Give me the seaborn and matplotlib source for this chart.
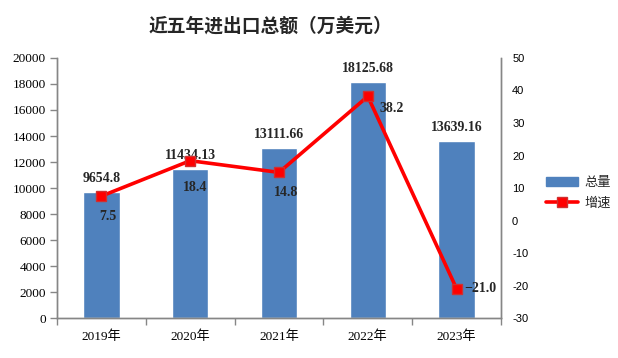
import seaborn as sns
import matplotlib.pyplot as plt
import pandas as pd
from matplotlib.patches import Patch
from matplotlib.lines import Line2D

years = ['2019年', '2020年', '2021年', '2022年', '2023年']
totals = [9654.8, 11434.13, 13111.66, 18125.68, 13639.16]
total_text = ['9654.8', '11434.13', '13111.66', '18125.68', '13639.16']
growth = [7.5, 18.4, 14.8, 38.2, -21.0]
growth_text = ['7.5', '18.4', '14.8', '38.2', '\u221221.0']

df = pd.DataFrame({'year': years, 'total': totals, 'growth': growth})

sns.set_theme(style='white')
plt.rcParams['font.family'] = ['Liberation Serif', 'Noto Sans CJK SC']
plt.rcParams['axes.unicode_minus'] = False

bar_color = '#4F81BD'
line_color = '#FF0000'
axis_color = '#868686'
serif = ['Liberation Serif', 'Noto Sans CJK SC']
sans = ['Liberation Sans', 'Noto Sans CJK SC']

fig = plt.figure(figsize=(6.18, 3.58), dpi=100)
ax = fig.add_axes([0.0922, 0.1117, 0.7185, 0.7263])
sns.barplot(data=df, x='year', y='total', color=bar_color, width=0.41,
            saturation=1, ax=ax)
ax2 = ax.twinx()
sns.pointplot(data=df, x='year', y='growth', color=line_color, markers='s',
              ax=ax2, linewidth=2.6, markersize=7,
              markeredgecolor='#D03030', markeredgewidth=1)

ax.set_xlim(-0.5, 4.5)
ax.set_ylim(0, 20000)
ax.set_yticks(range(0, 20001, 2000))
ax2.set_ylim(-30, 50)
ax2.set_yticks(range(-30, 51, 10))
ax.set_xlabel('')
ax.set_ylabel('')
ax2.set_ylabel('')

for a in (ax, ax2):
    for s in a.spines.values():
        s.set_color(axis_color)
        s.set_linewidth(1)
    a.spines['top'].set_visible(False)

ax.tick_params(axis='y', which='major', left=True, length=5, width=1,
               color=axis_color, pad=3, labelsize=9.5)
ax.set_xticks([i + 0.5 for i in range(-1, 5)], minor=True)
ax.tick_params(axis='x', which='major', length=0, pad=9, labelsize=9.5)
ax.tick_params(axis='x', which='minor', bottom=True, length=5, width=1,
               color=axis_color)
ax2.tick_params(axis='y', right=True, length=0, pad=8, labelsize=8)
for lab in ax.get_yticklabels() + ax.get_xticklabels():
    lab.set_family(serif)
    lab.set_color('black')
for lab in ax2.get_yticklabels():
    lab.set_family(sans)
    lab.set_color('black')

# bar value labels
for i, (v, t) in enumerate(zip(totals, total_text)):
    ax.annotate(t, (i, v), xytext=(0, 7), textcoords='offset pixels',
                ha='center', va='bottom', fontsize=10, fontweight='bold',
                family=serif)

# growth labels
offsets = [(6, -20), (5, -27), (7, -20), (24, -12), (24, 0)]
for i, (v, t) in enumerate(zip(growth, growth_text)):
    dx, dy = offsets[i]
    ax2.annotate(t, (i, v), xytext=(dx, dy), textcoords='offset pixels',
                 ha='center', va='center', fontsize=10, fontweight='bold',
                 family=serif)

fig.text(0.437, 0.928, '近五年进出口总额（万美元）', ha='center', va='center',
         fontsize=13.5, fontweight='bold', family=['Noto Sans CJK SC'])

handles = [Patch(facecolor=bar_color, edgecolor=bar_color),
           Line2D([], [], color=line_color, lw=2.6, marker='s', markersize=7,
                  markeredgecolor='#D03030')]
fig.legend(handles, ['总量', '增速'], loc='center left',
           bbox_to_anchor=(0.865, 0.46), frameon=False,
           prop={'family': sans, 'size': 9.5}, handlelength=2.4,
           handletextpad=0.5, labelspacing=0.6)

fig.savefig('out.png', dpi=100)
